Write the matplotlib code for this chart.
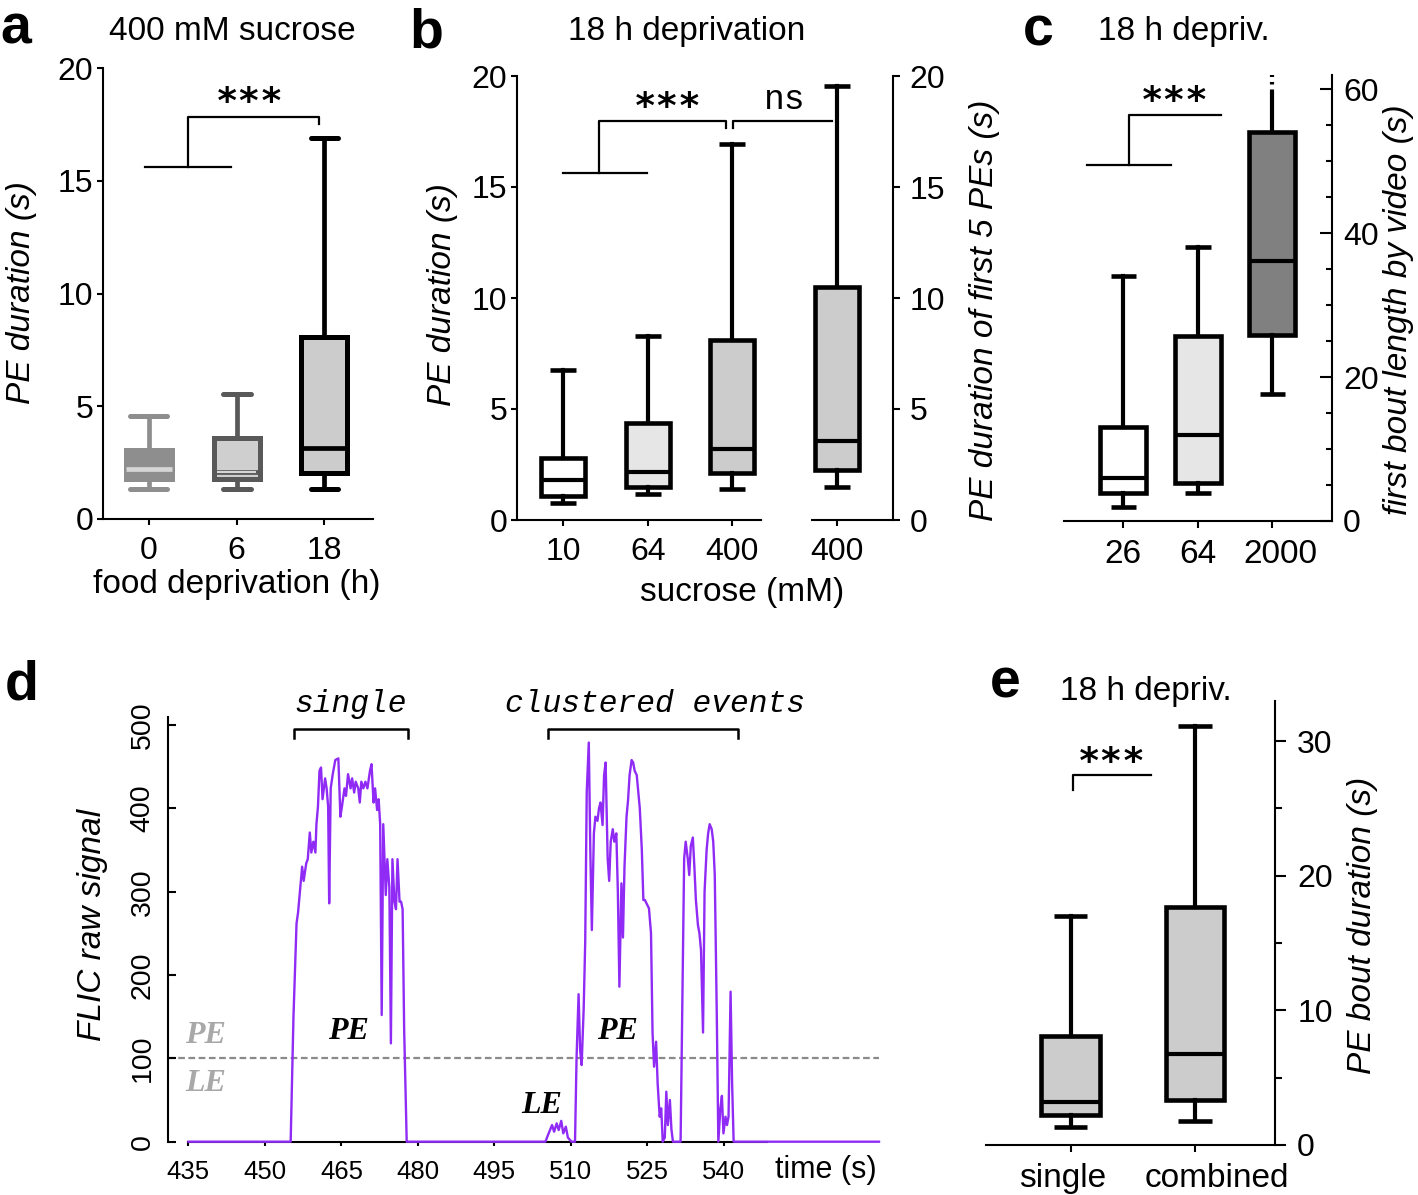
import matplotlib
matplotlib.use('Agg')
import matplotlib.pyplot as plt
from matplotlib.ticker import MultipleLocator
from matplotlib.transforms import ScaledTranslation

W, H = 1418, 1195
plt.rcParams['font.family'] = ['Liberation Sans', 'DejaVu Sans']
plt.rcParams['axes.linewidth'] = 1.5

# ---------------- data ----------------
# panel a : 400 mM sucrose, food deprivation (h)
a_labels = ['0', '6', '18']
a_whislo = [1.32, 1.32, 1.32]
a_q1 = [1.76, 1.76, 2.06]
a_med = [2.2, 2.1, 3.17]
a_q3 = [3.08, 3.61, 8.05]
a_whishi = [4.58, 5.55, 16.9]

# panel b : 18 h deprivation, sucrose (mM)
b_labels = ['10', '64', '400', '400']
b_whislo = [0.77, 1.17, 1.38, 1.49]
b_q1 = [1.08, 1.49, 2.10, 2.25]
b_med = [1.80, 2.16, 3.18, 3.54]
b_q3 = [2.79, 4.37, 8.09, 10.48]
b_whishi = [6.77, 8.27, 16.95, 19.53]

# panel c : first bout length by video
c_labels = ['26', '64', '2000']
c_whislo = [1.93, 3.86, 17.7]
c_q1 = [3.86, 5.35, 25.8]
c_med = [5.96, 12.0, 36.1]
c_q3 = [13.1, 25.7, 54.1]
c_whishi = [34.1, 38.1, 59.3]
c_whisker_beyond = 62.0

# panel e : PE bout duration
e_labels = ['single', 'combined']
e_whislo = [1.34, 1.79]
e_q1 = [2.24, 3.37]
e_med = [3.23, 6.78]
e_q3 = [8.1, 17.7]
e_whishi = [17.0, 31.1]

# panel d : FLIC raw signal trace
d_time = [435.0, 455.05, 455.6, 456.2, 456.5, 457.0, 457.3, 457.6, 458.1, 458.4, 458.8,
          459.1, 459.5, 459.9, 460.1, 460.4, 460.7, 461.0, 461.3, 461.8, 462.1, 462.4,
          462.6, 462.9, 463.3, 463.8, 464.4, 464.8, 465.1, 465.6, 465.9, 466.3, 466.8,
          467.1, 467.5, 467.8, 468.3, 468.6, 468.9, 469.3, 469.7, 470.1, 470.6, 470.9,
          471.3, 471.6, 472.0, 472.3, 472.6, 472.9, 473.2, 473.4, 473.7, 474.0, 474.4,
          474.7, 475.0, 475.4, 475.7, 476.0, 476.4, 476.7, 477.0, 477.3, 477.8,
          505.0, 505.5, 506.3, 506.7, 507.2, 507.6, 508.1, 508.5, 509.0, 509.4, 510.1,
          510.8, 511.1, 511.5, 511.8, 512.1, 512.5, 512.8, 513.1, 513.5, 513.8, 514.1,
          514.5, 514.8, 515.2, 515.5, 515.8, 516.2, 516.5, 516.8, 517.2, 517.5, 517.8,
          518.2, 518.5, 518.9, 519.2, 519.5, 519.9, 520.2, 520.5, 520.9, 521.2, 521.5,
          521.9, 522.2, 522.5, 522.9, 523.2, 523.5, 523.9, 524.2, 524.5, 524.9, 525.3,
          525.7, 526.0, 526.3, 526.7, 527.0, 527.4, 527.7, 528.0, 528.4, 528.7, 529.0,
          529.4, 529.7, 530.0, 531.5, 531.8, 532.2, 532.5, 532.9, 533.2, 533.5, 533.9,
          534.2, 534.5, 534.9, 535.2, 535.5, 535.9, 536.2, 536.6, 536.9, 537.2, 537.6,
          537.9, 538.2, 538.6, 538.9, 539.3, 539.6, 539.9, 540.3, 540.6, 540.9, 541.3,
          541.6, 541.9, 570.4]
d_signal = [0, 0, 150, 262, 275, 309, 330, 313, 334, 339, 371,
            347, 360, 347, 381, 402, 445, 449, 411, 436, 424, 402,
            286, 424, 441, 458, 460, 390, 402, 424, 415, 441, 424,
            436, 419, 432, 424, 407, 432, 424, 432, 424, 445, 453,
            407, 424, 398, 411, 381, 152, 381, 347, 296, 339, 305,
            118, 339, 288, 279, 339, 288, 288, 279, 135, 0,
            0, 8, 20, 12, 22, 14, 25, 10, 18, 5, 0,
            0, 100, 177, 110, 92, 160, 240, 420, 479, 350, 254,
            370, 390, 385, 400, 407, 380, 440, 455, 340, 313, 360,
            375, 360, 370, 300, 186, 310, 245, 330, 390, 410, 440,
            458, 455, 445, 440, 420, 400, 350, 290, 290, 285, 280,
            250, 131, 90, 120, 70, 30, 40, 0, 5, 60, 20,
            50, 15, 0, 0, 150, 340, 360, 340, 320, 355, 365,
            330, 290, 260, 250, 230, 131, 300, 350, 370, 381,
            375, 360, 320, 150, 0, 40, 55, 10, 30, 20, 30,
            180, 70, 0, 0]
d_threshold = 100

# significance brackets (data units of each panel)
a_sig_low, a_sig_high, a_sig_tick = 15.6, 17.83, 17.5
b_sig_low, b_sig_high, b_sig_tick = 15.63, 17.97, 17.66
c_sig_low, c_sig_high = 49.5, 56.5
e_sig_high, e_sig_tick = 27.5, 26.4
d_bracket_top, d_bracket_tick = 495, 485


def P(x, y):
    return x / W, 1 - y / H


def add_ax(l, r, t, b):
    return fig.add_axes([l / W, 1 - b / H, (r - l) / W, (b - t) / H])


def stats(lo, q1, med, q3, hi):
    return [dict(whislo=a, q1=b, med=c, q3=d, whishi=e, fliers=[])
            for a, b, c, d, e in zip(lo, q1, med, q3, hi)]


def draw_boxes(ax, st, pos, faces, edges, meds, width, capw, lw=3.3, wlw=3.0,
               mlw=3.0, capstyle='butt'):
    outs = []
    for i in range(len(st)):
        o = ax.bxp([st[i]], positions=[pos[i]], widths=width, patch_artist=True,
                   showfliers=False, manage_ticks=False, capwidths=capw[i],
                   boxprops=dict(facecolor=faces[i], edgecolor=edges[i], linewidth=lw,
                                 joinstyle='miter'),
                   whiskerprops=dict(color=edges[i], linewidth=wlw),
                   capprops=dict(color=edges[i], linewidth=lw, solid_capstyle=capstyle),
                   medianprops=dict(color=meds[i], linewidth=mlw, solid_capstyle='butt'))
        outs.append(o)
    return outs


fig = plt.figure(figsize=(W / 100, H / 100), dpi=100)

LAB = 24
TICK = 23
mono = 'Liberation Mono'
star = dict(family='DejaVu Sans Mono', weight='bold', fontsize=27, ha='center',
            va='center')

# ================= panel a =================
axa = add_ax(103, 373, 68, 519)
a_pos = [0, 1, 2]
axa.set_xlim(-0.522, 2.553)
axa.set_ylim(0, 20)
draw_boxes(axa, stats(a_whislo, a_q1, a_med, a_q3, a_whishi), a_pos,
           ['#8e8e8e', '#cfcfcf', '#cccccc'], ['#8e8e8e', '#595959', 'black'],
           ['#d6d6d6', '#595959', 'black'], 0.525, [0.42, 0.32, 0.3],
           lw=3.6, wlw=3.4, mlw=3.4, capstyle='round')
axa.bxp(stats(a_whislo, a_q1, a_med, a_q3, a_whishi)[1:2], positions=[1], widths=0.44,
        showfliers=False, showbox=False, showcaps=False, manage_ticks=False,
        whiskerprops=dict(linewidth=0), medianprops=dict(color='#d6d6d6', linewidth=1.5))
axa.set_xticks(a_pos, a_labels)
axa.set_yticks([0, 5, 10, 15, 20])
for s in ['top', 'right']:
    axa.spines[s].set_visible(False)
axa.tick_params(axis='both', labelsize=TICK, width=1.5, length=4, direction='out')
axa.tick_params(axis='x', pad=8)
axa.tick_params(axis='y', pad=3)
axa.plot([-0.04, 0.94], [a_sig_low, a_sig_low], color='k', lw=1.6)
axa.plot([0.45, 0.45, 1.935, 1.935], [a_sig_low, a_sig_high, a_sig_high, a_sig_tick],
         color='k', lw=1.6)
axa.text(1.15, a_sig_high + 0.6, '***', **star)

# ================= panel b =================
axb = add_ax(517, 893, 76, 520)
b_pos = [0, 1, 2, 3.24]
b_xlim = (-0.549, 3.906)
b_break = (2.339, 2.93)
axb.set_xlim(*b_xlim)
axb.set_ylim(0, 20)
draw_boxes(axb, stats(b_whislo, b_q1, b_med, b_q3, b_whishi), b_pos,
           ['white', '#e6e6e6', '#cccccc', '#cccccc'], ['k'] * 4, ['k'] * 4, 0.52,
           [0.31] * 4)
axb.set_xticks(b_pos, b_labels)
axb.set_yticks([0, 5, 10, 15, 20])
for s in ['top', 'right']:
    axb.spines[s].set_visible(False)
axb.spines['bottom'].set_bounds(b_xlim[0], b_break[0])
axb.plot([b_break[1], b_xlim[1]], [0, 0], color='k', lw=1.5, clip_on=False,
         transform=axb.get_xaxis_transform(), solid_capstyle='butt')
axb.tick_params(axis='both', labelsize=TICK, width=1.5, length=4, direction='out')
axb.tick_params(axis='x', pad=8)
axb.tick_params(axis='y', pad=3)
axbr = axb.twinx()
axbr.set_ylim(0, 20)
axbr.set_yticks([0, 5, 10, 15, 20])
for s in ['top', 'left', 'bottom']:
    axbr.spines[s].set_visible(False)
axbr.tick_params(axis='y', labelsize=TICK, width=1.5, length=5, direction='out', pad=7)
axb.plot([0, 0.99], [b_sig_low, b_sig_low], color='k', lw=1.6)
axb.plot([0.42, 0.42, 1.93, 1.93], [b_sig_low, b_sig_high, b_sig_high, b_sig_tick],
         color='k', lw=1.6)
axb.plot([2.01, 2.01, 3.18], [b_sig_tick, b_sig_high, b_sig_high], color='k', lw=1.6)
axb.text(1.24, b_sig_high + 0.6, '***', **star)
axb.text(2.62, b_sig_high + 0.95, 'ns', family=mono, fontsize=25, ha='center',
         va='center')

# ================= panel c =================
axc = add_ax(1064, 1332, 75, 521)
c_pos = [0, 1, 2]
axc.set_xlim(-0.796, 2.80)
axc.set_ylim(0, 62)
outc = draw_boxes(axc, stats(c_whislo, c_q1, c_med, c_q3, c_whishi), c_pos,
                  ['white', '#e6e6e6', '#808080'], ['k'] * 3, ['k'] * 3, 0.62,
                  [0.34] * 3)
outc[2]['caps'][1].set_visible(False)
axc.plot([c_pos[2], c_pos[2]], [c_whishi[2] + 0.4, c_whisker_beyond], color='k',
         lw=3.0, ls=(0, (0.6, 1.2)), clip_on=False)
axc.set_xticks(c_pos, c_labels)
axc.yaxis.tick_right()
axc.set_yticks([0, 20, 40, 60])
axc.yaxis.set_minor_locator(MultipleLocator(5))
for s in ['top', 'left']:
    axc.spines[s].set_visible(False)
axc.tick_params(axis='x', labelsize=24, width=1.5, length=5, direction='out', pad=8)
axc.tick_params(axis='y', which='major', labelsize=TICK, width=1.5, length=9,
                direction='in', pad=8)
axc.tick_params(axis='y', which='minor', width=1.5, length=4.5, direction='in')
lbl2000 = axc.get_xticklabels()[2]
lbl2000.set_transform(lbl2000.get_transform() + ScaledTranslation(8 / 100, 0,
                                                                   fig.dpi_scale_trans))
axc.plot([-0.49, 0.64], [c_sig_low, c_sig_low], color='k', lw=1.6)
axc.plot([0.08, 0.08, 1.31], [c_sig_low, c_sig_high, c_sig_high], color='k', lw=1.6)
axc.text(0.69, c_sig_high + 1.7, '***', **star)

# ================= panel d =================
axd = add_ax(168, 879, 716.7, 1141.7)
axd.set_xlim(431.0, 570.4)
axd.set_ylim(0, 510)
axd.axhline(d_threshold, color='#8a8a8a', lw=1.6, ls=(0, (3, 1.6)), zorder=1)
axd.plot(d_time, d_signal, color='#8f2bf5', lw=1.7, clip_on=False, zorder=3)
for s in ['top', 'right']:
    axd.spines[s].set_visible(False)
axd.spines['bottom'].set_bounds(435, 548.5)
axd.set_xticks(list(range(435, 541, 15)))
axd.set_yticks(list(range(0, 501, 100)))
axd.tick_params(axis='x', labelsize=18.5, width=1.5, length=3, direction='out', pad=10)
axd.tick_params(axis='y', labelsize=20.5, width=1.5, length=6, direction='in', pad=9)
for lbl in axd.get_yticklabels():
    lbl.set_rotation(90)
    lbl.set_va('center')
    lbl.set_ha('right')
axd.plot([455.8, 455.8, 478.1, 478.1],
         [d_bracket_tick, d_bracket_top, d_bracket_top, d_bracket_tick],
         color='k', lw=1.8, clip_on=False)
axd.plot([505.5, 505.5, 542.7, 542.7],
         [d_bracket_tick, d_bracket_top, d_bracket_top, d_bracket_tick],
         color='k', lw=1.8, clip_on=False)
axd.text(466.7, 525, 'single', family=mono, style='italic', fontsize=22.5,
         ha='center', va='center')
axd.text(526.4, 525, 'clustered events', family=mono, style='italic', fontsize=22.5,
         ha='center', va='center')
evt = dict(family='Liberation Serif', style='italic', weight='bold', fontsize=23,
           ha='center', va='center')
axd.text(466.4, 132, 'PE', **evt)
axd.text(519.1, 132, 'PE', **evt)
axd.text(504.3, 44, 'LE', **evt)
axd.text(438.4, 128, 'PE', color='#a8a8a8', **evt)
axd.text(438.4, 70, 'LE', color='#a8a8a8', **evt)

# ================= panel e =================
axe = add_ax(986, 1275, 700.7, 1145)
e_pos = [0, 1]
axe.set_xlim(-0.681, 1.644)
axe.set_ylim(0, 33.0)
draw_boxes(axe, stats(e_whislo, e_q1, e_med, e_q3, e_whishi), e_pos,
           ['#cccccc', '#cccccc'], ['k', 'k'], ['k', 'k'], 0.47, [0.27, 0.27])
axe.set_xticks(e_pos, e_labels)
axe.yaxis.tick_right()
axe.set_yticks([0, 10, 20, 30])
axe.yaxis.set_minor_locator(MultipleLocator(5))
for s in ['top', 'left']:
    axe.spines[s].set_visible(False)
axe.tick_params(axis='x', labelsize=24, width=1.5, length=5, direction='out', pad=8)
axe.tick_params(axis='y', which='major', labelsize=TICK, width=1.5, length=8,
                direction='out', pad=8)
axe.tick_params(axis='y', which='minor', width=1.5, length=5, direction='out')
for lbl, dx in zip(axe.get_xticklabels(), [-8, 22]):
    lbl.set_transform(lbl.get_transform() + ScaledTranslation(dx / 100, 0,
                                                              fig.dpi_scale_trans))
axe.plot([0.016, 0.016, 0.65], [e_sig_tick, e_sig_high, e_sig_high], color='k', lw=1.6)
axe.text(0.33, e_sig_high + 0.9, '***', **star)

# ================= texts (figure level) =================
def ftext(x, y, s, **kw):
    fig.text(*P(x, y), s, **kw)

for x, y, s in [(16, 43, 'a'), (426, 48, 'b'), (1038, 45, 'c'), (22, 700, 'd'),
                (1005, 698, 'e')]:
    ftext(x, y, s, fontsize=40, weight='bold', ha='center', va='baseline')

ftext(232, 40, '400 mM sucrose', fontsize=LAB, ha='center', va='baseline')
ftext(687, 40, '18 h deprivation', fontsize=LAB, ha='center', va='baseline')
ftext(1184, 40, '18 h depriv.', fontsize=LAB, ha='center', va='baseline')
ftext(1146, 700, '18 h depriv.', fontsize=LAB, ha='center', va='baseline')

ftext(237, 585, 'food deprivation (h)', fontsize=LAB, ha='center', va='center')
ftext(742, 593, 'sucrose (mM)', fontsize=LAB, ha='center', va='center')
ftext(826, 1170, 'time (s)', fontsize=22, ha='center', va='center')

ftext(22, 293, 'PE duration (s)', fontsize=LAB, style='italic', rotation=90,
      ha='center', va='center')
ftext(442, 295, 'PE duration (s)', fontsize=LAB, style='italic', rotation=90,
      ha='center', va='center')
ftext(985, 310, 'PE duration of first 5 PEs (s)', fontsize=LAB, style='italic',
      rotation=90, ha='center', va='center')
ftext(1398, 310, 'first bout length by video (s)', fontsize=LAB, style='italic',
      rotation=90, ha='center', va='center')
ftext(93, 925, 'FLIC raw signal', fontsize=LAB, style='italic', rotation=90,
      ha='center', va='center')
ftext(1363, 925, 'PE bout duration (s)', fontsize=LAB, style='italic', rotation=90,
      ha='center', va='center')

fig.savefig('out.png', dpi=100)
